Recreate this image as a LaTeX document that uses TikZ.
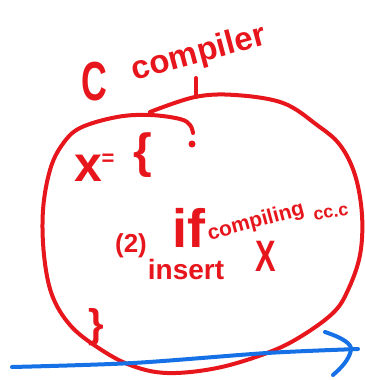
\documentclass[tikz,border=0pt]{standalone}
\usepackage{fontspec}
\setmainfont{Liberation Sans}
\definecolor{penred}{RGB}{230,22,28}
\definecolor{penblue}{RGB}{22,112,230}

\begin{document}
\begin{tikzpicture}[x=1pt, y=-1pt,
    ink/.style={line width=4pt, line cap=round, line join=round},
    scrawl/.style={text=penred, inner sep=0pt, font=\fontsize{#1}{#1}\selectfont\bfseries}]
  \useasboundingbox (0,0) rectangle (364,380);
  % title
  \node[scrawl=55, xscale=0.65] (cletter) at (94,82) {C};
  \node[scrawl=33, rotate=15] (compiler) at (199,54) {compiler};
  \coordinate (stemtop) at (196,78);
  \coordinate (stembase) at (196,97);
  \draw[ink, penred] (stemtop) -- (stembase);
  % compiler outline
  \draw[ink, penred] plot[smooth, tension=0.6] coordinates {(150,112) (195,97) (235,95) (283,103) (317,125) (340,145) (355,175) (362,215) (360,255) (348,290) (333,313) (300,337) (267,353) (217,368) (167,373) (130,365) (97,347) (70,325) (52,295) (44,255) (43,210) (50,170) (62,145) (80,128) (117,117) (150,115) (180,119) (190,125) (193,133)};
  \fill[penred] (192,144) circle (3.5);
  % inside
  \node[scrawl=50] (xvar) at (88,168) {x};
  \node[scrawl=22] (equals) at (108,160) {=};
  \node[scrawl=48] (lbrace) at (143,155) {\{};
  \node[scrawl=26] (step2) at (131,246) {(2)};
  \node[scrawl=54] (ifword) at (189,228) {if};
  \node[scrawl=21, rotate=15] (compiling) at (256,222) {compiling};
  \node[scrawl=18, rotate=8] (ccfile) at (331,213) {cc.c};
  \node[scrawl=28] (insert) at (186,269) {insert};
  \node[scrawl=44, xscale=0.7] (xbig) at (266,256) {X};
  \node[scrawl=40] (rbrace) at (96,327) {\}};
  % blue arrow
  \coordinate (flowstart) at (12,367);
  \coordinate (flowend) at (358,349);
  \draw[ink, penblue] plot[smooth] coordinates {(flowstart) (133,363) (267,353) (flowend)};
  \draw[ink, penblue] (325,332) .. controls (343,338) and (352,344) .. (351,350) .. controls (349,360) and (341,368) .. (333,375);
\end{tikzpicture}
\end{document}
